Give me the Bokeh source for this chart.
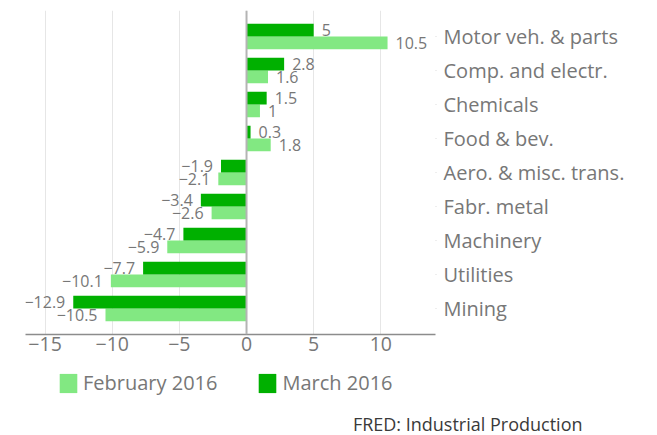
from bokeh.plotting import figure
from bokeh.layouts import column
from bokeh.models import (ColumnDataSource, FactorRange, Range1d, Span, Legend, LegendItem,
                          FixedTicker, CustomJSTickFormatter, Title)
from bokeh.transform import dodge
from bokeh.embed import file_html
from bokeh.resources import INLINE

# ---- data (top to bottom as in the chart) ----
categories = ["Motor veh. & parts", "Comp. and electr.", "Chemicals", "Food & bev.",
              "Aero. & misc. trans.", "Fabr. metal", "Machinery", "Utilities", "Mining"]
feb_2016 = [10.5, 1.6, 1, 1.8, -2.1, -2.6, -5.9, -10.1, -10.5]
mar_2016 = [5, 2.8, 1.5, 0.3, -1.9, -3.4, -4.7, -7.7, -12.9]
series_names = ["February 2016", "March 2016"]
x_ticks = [-15, -10, -5, 0, 5, 10]
source_note = "FRED: Industrial Production"

FONT = "Open Sans"
DARK = "#00b000"
LIGHT = "#82e882"
GRAY = "#777777"

factors = list(reversed(categories))
BAR_H = 0.3725
OFF = BAR_H / 2


def fmt(v):
    return f"{v:g}".replace("-", "\u2212")


def make_src(vals):
    return ColumnDataSource(dict(
        cat=categories,
        val=vals,
        lab=[fmt(v) for v in vals],
        align=["left" if v >= 0 else "right" for v in vals],
        xoff=[8 if v >= 0 else -8 for v in vals],
    ))


src_feb = make_src(feb_2016)
src_mar = make_src(mar_2016)

# ---------------- main chart ----------------
p = figure(width=657, height=364,
           x_range=Range1d(-16.456, 14.07),
           y_range=FactorRange(factors=factors, range_padding=0.265, range_padding_units="absolute"),
           y_axis_location="right",
           output_backend="svg", toolbar_location=None,
           min_border_left=25, min_border_top=10, min_border_right=222, min_border_bottom=30)
p.outline_line_color = None
p.background_fill_color = "white"

p.hbar(y=dodge("cat", -OFF, range=p.y_range), right="val", left=0, height=BAR_H,
       source=src_feb, fill_color=LIGHT, line_color=None)
p.hbar(y=dodge("cat", OFF, range=p.y_range), right="val", left=0, height=BAR_H,
       source=src_mar, fill_color=DARK, line_color=None)

for src, off in ((src_feb, -OFF), (src_mar, OFF)):
    p.text(x="val", y=dodge("cat", off, range=p.y_range), text="lab", source=src,
           x_offset="xoff", text_align="align", text_baseline="middle",
           text_font_size="16px", text_color=GRAY, text_font={"value": FONT})

p.add_layout(Span(location=0, dimension="height", line_color="#b4b4b4", line_width=2))

p.ygrid.grid_line_color = None
p.xgrid.grid_line_color = "#e6e6e6"
p.xgrid.ticker = FixedTicker(ticks=x_ticks)

xa = p.xaxis[0]
xa.ticker = FixedTicker(ticks=x_ticks)
xa.formatter = CustomJSTickFormatter(code="return tick < 0 ? '\\u2212' + Math.abs(tick) : String(tick);")
xa.axis_line_color = "#8c8c8c"
xa.axis_line_width = 1.3
xa.major_tick_line_color = None
xa.minor_tick_line_color = None
xa.major_tick_out = 0
xa.major_tick_in = 0
xa.major_label_standoff = 2
xa.major_label_text_font = FONT
xa.major_label_text_font_size = "19.5px"
xa.major_label_text_color = GRAY

ya = p.yaxis[0]
ya.axis_line_color = None
ya.major_tick_line_color = "#dddddd"
ya.major_tick_out = 1
ya.major_tick_in = 0
ya.minor_tick_line_color = None
ya.major_label_standoff = 7
ya.major_label_text_font = FONT
ya.major_label_text_font_size = "20px"
ya.major_label_text_color = GRAY

# ---------------- legend + source strip ----------------
p2 = figure(width=657, height=71, x_range=Range1d(100, 101),
            y_range=FactorRange(factors=factors),
            x_axis_type=None, y_axis_type=None,
            output_backend="svg", toolbar_location=None,
            min_border_left=0, min_border_right=0, min_border_top=0, min_border_bottom=0)
p2.outline_line_color = None
p2.xgrid.visible = False
p2.ygrid.visible = False

# same series, zero-height and outside the strip's range: they only supply the legend icons
l_feb = p2.hbar(y=dodge("cat", -OFF, range=p2.y_range), right="val", left=0, height=0,
                source=src_feb, fill_color=LIGHT, line_color=None)
l_mar = p2.hbar(y=dodge("cat", OFF, range=p2.y_range), right="val", left=0, height=0,
                source=src_mar, fill_color=DARK, line_color=None)

legend = Legend(items=[LegendItem(label=series_names[0], renderers=[l_feb]),
                       LegendItem(label=series_names[1], renderers=[l_mar])],
                orientation="horizontal", location=(32, 13),
                glyph_width=22, glyph_height=24, label_standoff=4, spacing=39,
                padding=0, margin=0, border_line_color=None, background_fill_alpha=0,
                label_text_font=FONT, label_text_font_size="20px", label_text_color=GRAY)
p2.add_layout(legend, "center")

p2.add_layout(Title(text=source_note, align="right", offset=-147, standoff=0,
                    text_font=FONT, text_font_size="18px", text_font_style="normal",
                    text_color="#3a3a3a"), "below")

layout = column(p, p2, spacing=0)
open("out.html", "w").write(file_html(layout, INLINE))
